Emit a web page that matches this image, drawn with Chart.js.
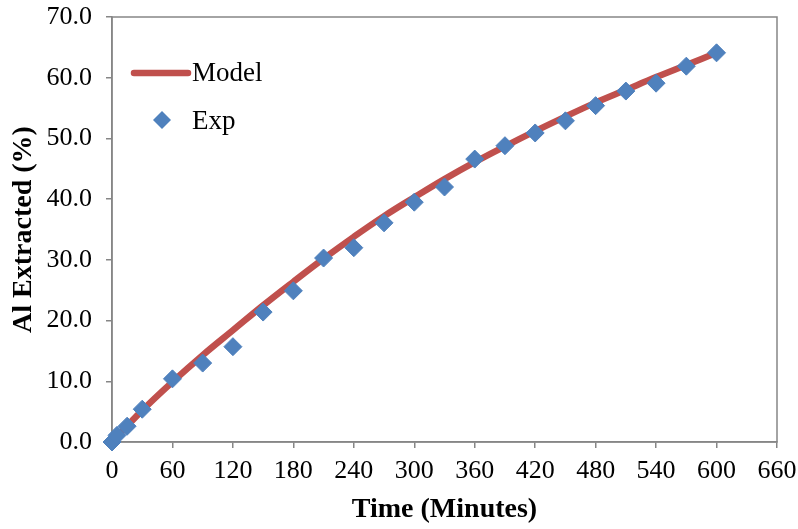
<!DOCTYPE html>
<html>
<head>
<meta charset="utf-8">
<script src="https://cdn.jsdelivr.net/npm/chart.js@4.4.1/dist/chart.umd.min.js"></script>
<style>
  html, body { margin: 0; padding: 0; background: #fff; }
  #wrap { position: relative; width: 798px; height: 529px; }
</style>
</head>
<body>
<div id="wrap"><canvas id="alChart"></canvas></div>
<script>
// Al extraction vs time: fitted model curve and experimental points.
const modelTime = [0, 30, 60, 90, 120, 150, 180, 210, 240, 270, 300, 330, 360, 390, 420, 450, 480, 510, 540, 570, 600];
const modelAl = [0, 5.2, 9.9, 14.3, 18.4, 22.5, 26.4, 30.2, 33.8, 37.2, 40.3, 43.3, 46.1, 48.7, 51.2, 53.6, 55.9, 58.0, 60.1, 62.1, 64.1];

const expTime = [0, 5, 15, 30, 60, 90, 120, 150, 180, 210, 240, 270, 300, 330, 360, 390, 420, 450, 480, 510, 540, 570, 600];
const expAl = [0, 1.1, 2.6, 5.4, 10.4, 13.0, 15.7, 21.4, 24.9, 30.3, 32.0, 36.1, 39.5, 42.0, 46.6, 48.8, 50.9, 52.9, 55.4, 57.8, 59.1, 61.9, 64.1];

const xTicks = [0, 60, 120, 180, 240, 300, 360, 420, 480, 540, 600, 660];
const yTicks = [0, 10, 20, 30, 40, 50, 60, 70];

const RED = "#C0504D";
const BLUE = "#4F81BD";
const AXIS = "#868686";
const SERIF = "'Liberation Serif', 'Times New Roman', serif";

const toPoints = (xs, ys) => xs.map((x, i) => ({ x, y: ys[i] }));

// Plot frame (Excel style box round the plot area)
const framePlugin = {
  id: "frame",
  beforeDatasetsDraw(chart) {
    const { ctx, chartArea: a } = chart;
    ctx.save();
    ctx.strokeStyle = AXIS;
    ctx.lineWidth = 1.5;
    ctx.strokeRect(a.left, a.top, a.right - a.left, a.bottom - a.top);
    ctx.restore();
  }
};

// Legend drawn inside the plot area, top left
const insideLegend = {
  id: "insideLegend",
  afterDraw(chart) {
    const { ctx, chartArea: a } = chart;
    const ds = chart.data.datasets;
    ctx.save();
    ctx.font = "27px " + SERIF;
    ctx.textBaseline = "middle";
    ctx.fillStyle = "#000";
    // Model: thick line sample
    let y = a.top + 56;
    ctx.strokeStyle = ds[0].borderColor;
    ctx.lineWidth = 6.5;
    ctx.lineCap = "round";
    ctx.beginPath();
    ctx.moveTo(a.left + 22, y);
    ctx.lineTo(a.left + 76, y);
    ctx.stroke();
    ctx.fillText(ds[0].label, a.left + 80, y + 1);
    // Exp: diamond marker
    y = a.top + 103;
    const cx = a.left + 50;
    const r = 9;
    ctx.fillStyle = ds[1].backgroundColor;
    ctx.beginPath();
    ctx.moveTo(cx - r, y);
    ctx.lineTo(cx, y - r);
    ctx.lineTo(cx + r, y);
    ctx.lineTo(cx, y + r);
    ctx.closePath();
    ctx.fill();
    ctx.fillStyle = "#000";
    ctx.fillText(ds[1].label, a.left + 80, y + 2);
    ctx.restore();
  }
};

new Chart(document.getElementById("alChart"), {
  type: "scatter",
  data: {
    datasets: [
      {
        label: "Model",
        data: toPoints(modelTime, modelAl),
        showLine: true,
        borderColor: RED,
        backgroundColor: RED,
        borderWidth: 6.5,
        borderCapStyle: "round",
        pointRadius: 0,
        tension: 0.4,
        clip: false,
        order: 2
      },
      {
        label: "Exp",
        data: toPoints(expTime, expAl),
        showLine: false,
        pointStyle: "rectRot",
        pointRadius: 9,
        borderWidth: 1,
        borderColor: BLUE,
        backgroundColor: BLUE,
        clip: false,
        order: 1
      }
    ]
  },
  options: {
    responsive: true,
    maintainAspectRatio: false,
    animation: false,
    layout: { padding: { top: 17, right: 21, left: 0, bottom: 0 } },
    plugins: {
      legend: { display: false },
      tooltip: { enabled: false }
    },
    scales: {
      x: {
        type: "linear",
        min: 0,
        max: 660,
        afterBuildTicks: (s) => { s.ticks = xTicks.map(v => ({ value: v })); },
        afterFit: (s) => { s.height = 87; s.paddingLeft = 0; s.paddingRight = 0; },
        ticks: { font: { family: SERIF, size: 26 }, color: "#000", padding: 8, maxRotation: 0 },
        grid: { drawOnChartArea: false, tickLength: 6, color: AXIS, lineWidth: 1.5 },
        border: { color: AXIS, width: 1.5 },
        title: { display: true, text: "Time (Minutes)", font: { family: SERIF, size: 28, weight: "bold" }, color: "#000", padding: { top: 0, bottom: 2 } }
      },
      y: {
        type: "linear",
        min: 0,
        max: 70,
        afterBuildTicks: (s) => { s.ticks = yTicks.map(v => ({ value: v })); },
        afterFit: (s) => { s.width = 112; s.paddingTop = 0; s.paddingBottom = 0; },
        ticks: { font: { family: SERIF, size: 26 }, color: "#000", padding: 14, callback: (v) => Number(v).toFixed(1) },
        grid: { drawOnChartArea: false, tickLength: 6, color: AXIS, lineWidth: 1.5 },
        border: { color: AXIS, width: 1.5 },
        title: { display: true, text: "Al Extracted (%)", font: { family: SERIF, size: 28, weight: "bold" }, color: "#000", padding: { top: 7, bottom: 0 } }
      }
    }
  },
  plugins: [framePlugin, insideLegend]
});
</script>
</body>
</html>
